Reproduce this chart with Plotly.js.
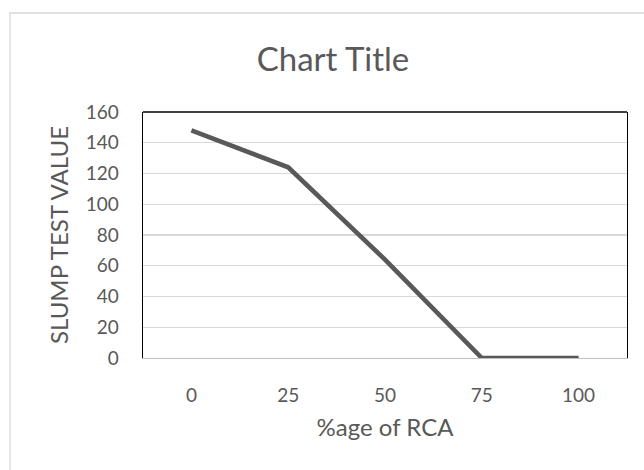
<!DOCTYPE html>
<html>
<head>
<meta charset="utf-8">
<script src="https://cdn.plot.ly/plotly-3.0.1.min.js"></script>
<style>
  html, body { margin: 0; padding: 0; background: #ffffff; }
  #chart { width: 644px; height: 470px; }
</style>
</head>
<body>
<div id="chart"></div>
<script>
// Data
const categories = ["0", "25", "50", "75", "100"];
const slumpValues = [148, 124, 64, 0, 0];
const yTickValues = [0, 20, 40, 60, 80, 100, 120, 140, 160];

const textColor = "#595959";
const fontFamily = "Lato, 'Open Sans', sans-serif";

const trace = {
  type: "scatter",
  mode: "lines",
  x: categories,
  y: slumpValues,
  line: { color: "#595959", width: 4.6 },
  hoverinfo: "skip"
};

const layout = {
  width: 644,
  height: 470,
  paper_bgcolor: "#ffffff",
  plot_bgcolor: "#ffffff",
  showlegend: false,
  margin: { l: 143, r: 17, t: 112, b: 112, pad: 0 },
  font: { family: fontFamily, color: textColor },
  title: {
    text: "Chart Title",
    font: { family: fontFamily, size: 33, color: textColor },
    x: 333 / 644,
    xref: "container",
    xanchor: "center",
    y: 1 - 59 / 470,
    yref: "container",
    yanchor: "middle"
  },
  xaxis: {
    type: "category",
    range: [-0.5, categories.length - 0.5],
    showgrid: false,
    zeroline: false,
    showline: true,
    linecolor: "#bfbfbf",
    linewidth: 1.3,
    ticks: "",
    ticklabelstandoff: 20,
    tickfont: { family: fontFamily, size: 19, color: textColor },
    title: {
      text: "%age of RCA",
      font: { family: fontFamily, size: 24, color: textColor },
      standoff: 14
    }
  },
  yaxis: {
    range: [0, 160],
    tickvals: yTickValues,
    ticktext: yTickValues.map(String),
    showgrid: true,
    gridcolor: "#d9d9d9",
    gridwidth: 1.3,
    zeroline: false,
    showline: true,
    mirror: true,
    linecolor: "#000000",
    linewidth: 1.3,
    ticks: "",
    ticklabelstandoff: 19,
    tickfont: { family: fontFamily, size: 19, color: textColor },
    title: {
      text: "SLUMP TEST VALUE",
      font: { family: fontFamily, size: 24, color: textColor },
      standoff: 10
    }
  },
  shapes: [
    // top edge of the plot-area border
    {
      type: "line", xref: "paper", yref: "paper",
      x0: 0, x1: 1, y0: 1, y1: 1,
      line: { color: "#000000", width: 1.3 },
      layer: "above"
    },
    // outer chart-area border (extends past the right and bottom edges)
    {
      type: "rect", xref: "paper", yref: "paper",
      x0: (10 - 143) / 484, x1: 1.3,
      y0: -1, y1: (358 - 13) / 246,
      line: { color: "#d9d9d9", width: 1.3 },
      fillcolor: "rgba(0,0,0,0)",
      layer: "below"
    }
  ]
};

Plotly.newPlot("chart", [trace], layout, { staticPlot: true, displayModeBar: false });
</script>
</body>
</html>
